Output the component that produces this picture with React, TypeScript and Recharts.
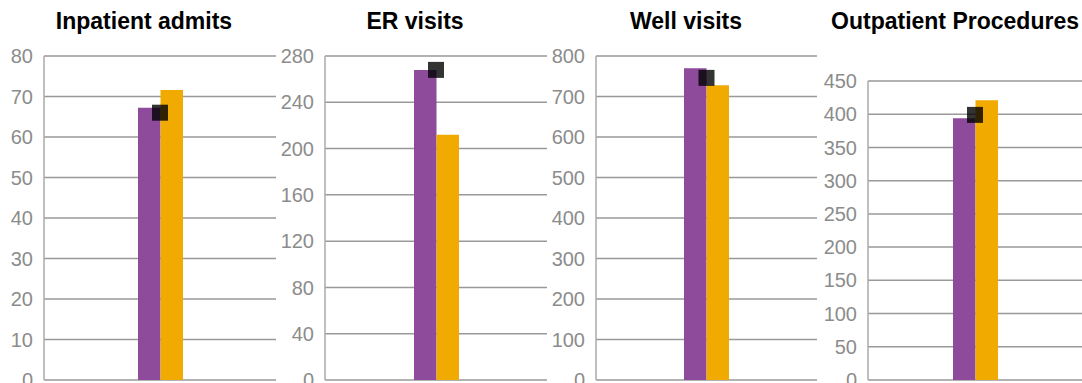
import { ComposedChart, Bar, Scatter, XAxis, YAxis, CartesianGrid } from 'recharts'

const categories = ['Inpatient admits', 'ER visits', 'Well visits', 'Outpatient Procedures']
const actualValues = [67.2, 268, 770, 394]
const compareValues = [71.6, 212, 728, 421]
const targetValues = [66, 268, 746, 399]
const tickSets = [
  [0, 10, 20, 30, 40, 50, 60, 70, 80],
  [0, 40, 80, 120, 160, 200, 240, 280],
  [0, 100, 200, 300, 400, 500, 600, 700, 800],
  [0, 50, 100, 150, 200, 250, 300, 350, 400, 450],
]

// layout per panel
const lefts = [0, 276, 547, 817]
const widths = [276, 271, 270, 265]
const axisWidths = [44, 49, 49, 51]
const tops = [56, 56, 56, 81]
const titleCenters = [144, 415, 686, 955]

const FONT = '"Liberation Sans", Arial, sans-serif'
const PURPLE = '#8e4a9b'
const ORANGE = '#f0aa00'

const TargetSquare = (props: any) => {
  const { cx, cy } = props
  if (cx == null || cy == null) return null
  return <rect x={cx - 8} y={cy - 8} width={16} height={16} fill="rgba(0,0,0,0.8)" />
}

function Panel({ index }: { index: number }) {
  const ticks = tickSets[index]
  const data = [
    {
      name: categories[index],
      actual: actualValues[index],
      compare: compareValues[index],
      target: targetValues[index],
    },
  ]
  return (
    <div style={{ position: 'absolute', left: lefts[index], top: 0 }}>
      <ComposedChart
        width={widths[index]}
        height={400}
        data={data}
        margin={{ top: tops[index], right: 0, bottom: 20, left: 0 }}
        barGap={0}
      >
        <CartesianGrid vertical={false} stroke="#999" strokeWidth={1.5} />
        <XAxis dataKey="name" type="category" hide />
        <YAxis
          width={axisWidths[index]}
          domain={[0, ticks[ticks.length - 1]]}
          ticks={ticks}
          interval={0}
          tickLine={false}
          tickMargin={5}
          axisLine={{ stroke: '#aaa', strokeWidth: 1.5 }}
          tick={{ fill: '#8c8c8c', fontSize: 20, fontFamily: FONT }}
        />
        <Bar dataKey="actual" fill={PURPLE} barSize={22.5} isAnimationActive={false} />
        <Bar dataKey="compare" fill={ORANGE} barSize={22.5} isAnimationActive={false} />
        <Scatter dataKey="target" shape={TargetSquare} isAnimationActive={false} />
      </ComposedChart>
    </div>
  )
}

export default function App() {
  return (
    <div style={{ position: 'absolute', left: 0, top: 0, width: 1082, height: 383, overflow: 'hidden', background: '#fff' }}>
      {categories.map((_, i) => (
        <Panel key={i} index={i} />
      ))}
      <svg width={1082} height={40} style={{ position: 'absolute', left: 0, top: 0 }}>
        {categories.map((c, i) => (
          <text
            key={c}
            x={titleCenters[i]}
            y={29}
            textAnchor="middle"
            fontFamily={FONT}
            fontWeight="bold"
            fontSize={23}
            fill="#000"
          >
            {c}
          </text>
        ))}
      </svg>
    </div>
  )
}
